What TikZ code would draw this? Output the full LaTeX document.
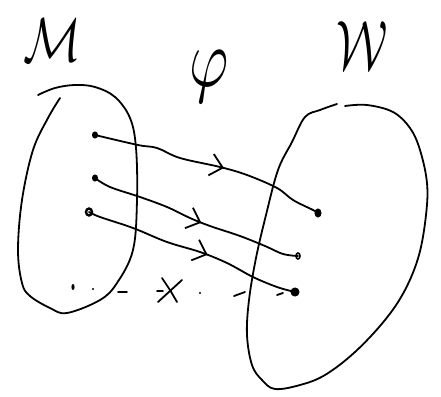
\documentclass[tikz,border=0pt]{standalone}
\usetikzlibrary{decorations.markings,arrows.meta,shapes.geometric}
\begin{document}
\begin{tikzpicture}[x=1pt,y=-1pt,
  ink/.style={line width=1.8pt, line cap=round, line join=round},
  dotf/.style={ellipse, fill, draw, line width=1pt, inner sep=0pt, minimum width=5pt, minimum height=6pt},
  doto/.style={ellipse, draw, line width=1.6pt, inner sep=0pt, minimum width=4pt, minimum height=6pt},
  midarrow/.style={postaction={decorate, decoration={markings,
      mark=at position #1 with {\arrow{Straight Barb[length=12pt,width=22pt,line width=1.8pt]}}}}},
  lab/.style={inner sep=0pt}]
\useasboundingbox (0,0) rectangle (441,396);

% labels
\node[lab, xscale=4.8, yscale=6.2] (M) at (52,40) {$\mathcal{M}$};
\node[lab, xscale=6, yscale=8.3] (phi) at (209,77) {$\varphi$};
\node[lab, xscale=4.8, yscale=7] (W) at (362,46) {$\mathcal{W}$};

% left set
\draw[ink] plot[smooth, tension=0.6] coordinates {(60,98) (48,118) (33,150) (22,200) (18,250) (22,283) (30,296) (50,308) (67,313) (100,300) (117,283) (133,250) (137,200) (136,148) (130,118) (115,97) (95,87) (75,85) (55,88) (38,95)};

% right set
\draw[ink] plot[smooth, tension=0.6] coordinates {(337,104) (320,110) (305,117) (292,142) (278,170) (266,215) (256,258) (249,300) (247,335) (252,365) (262,380) (275,389) (300,385) (325,375) (355,352) (385,320) (405,290) (419,255) (426,215) (427,183) (420,150) (410,128) (393,112) (367,105) (345,106)};

% points
\node[dotf] (a) at (95,135) {};
\node[dotf] (b) at (95,178) {};
\node[doto, minimum width=6pt, minimum height=7pt, line width=2.4pt] (c) at (89,212) {};
\node[dotf, minimum width=6pt, minimum height=8pt] (d) at (318,213) {};
\node[doto] (e) at (298,256) {};
\node[dotf, minimum width=8pt, minimum height=8pt] (f) at (295,292) {};

% map arrows
\draw[ink, midarrow=0.56] plot[smooth, tension=0.6] coordinates {(a) (138,145) (157,148) (180,158) (220,167) (247,175) (277,188) (293,200) (313,210) (d)};
\draw[ink, midarrow=0.53] plot[smooth, tension=0.6] coordinates {(b) (110,187) (140,197) (167,207) (190,218) (210,226) (240,236) (265,246) (283,254) (e)};
\draw[ink, midarrow=0.57] plot[smooth, tension=0.6] coordinates {(c) (100,217) (133,228) (167,242) (200,252) (227,263) (253,277) (277,287) (f)};

% dotted path with cross
\fill (73,287) ellipse (1.6pt and 3pt);
\fill (93,289) circle (1.1pt);
\draw[ink] (118,292) -- (127,292);
\draw[ink] (157,291) -- (163,291);
\draw[ink] (162,278) -- (170,290) -- (177,302);
\draw[ink] (182,280) -- (170,291) -- (158,302);
\fill (200,293) circle (1.1pt);
\draw[ink] (234,296) -- (245,292);
\draw[ink] (277,295) -- (283,293);
\end{tikzpicture}
\end{document}
